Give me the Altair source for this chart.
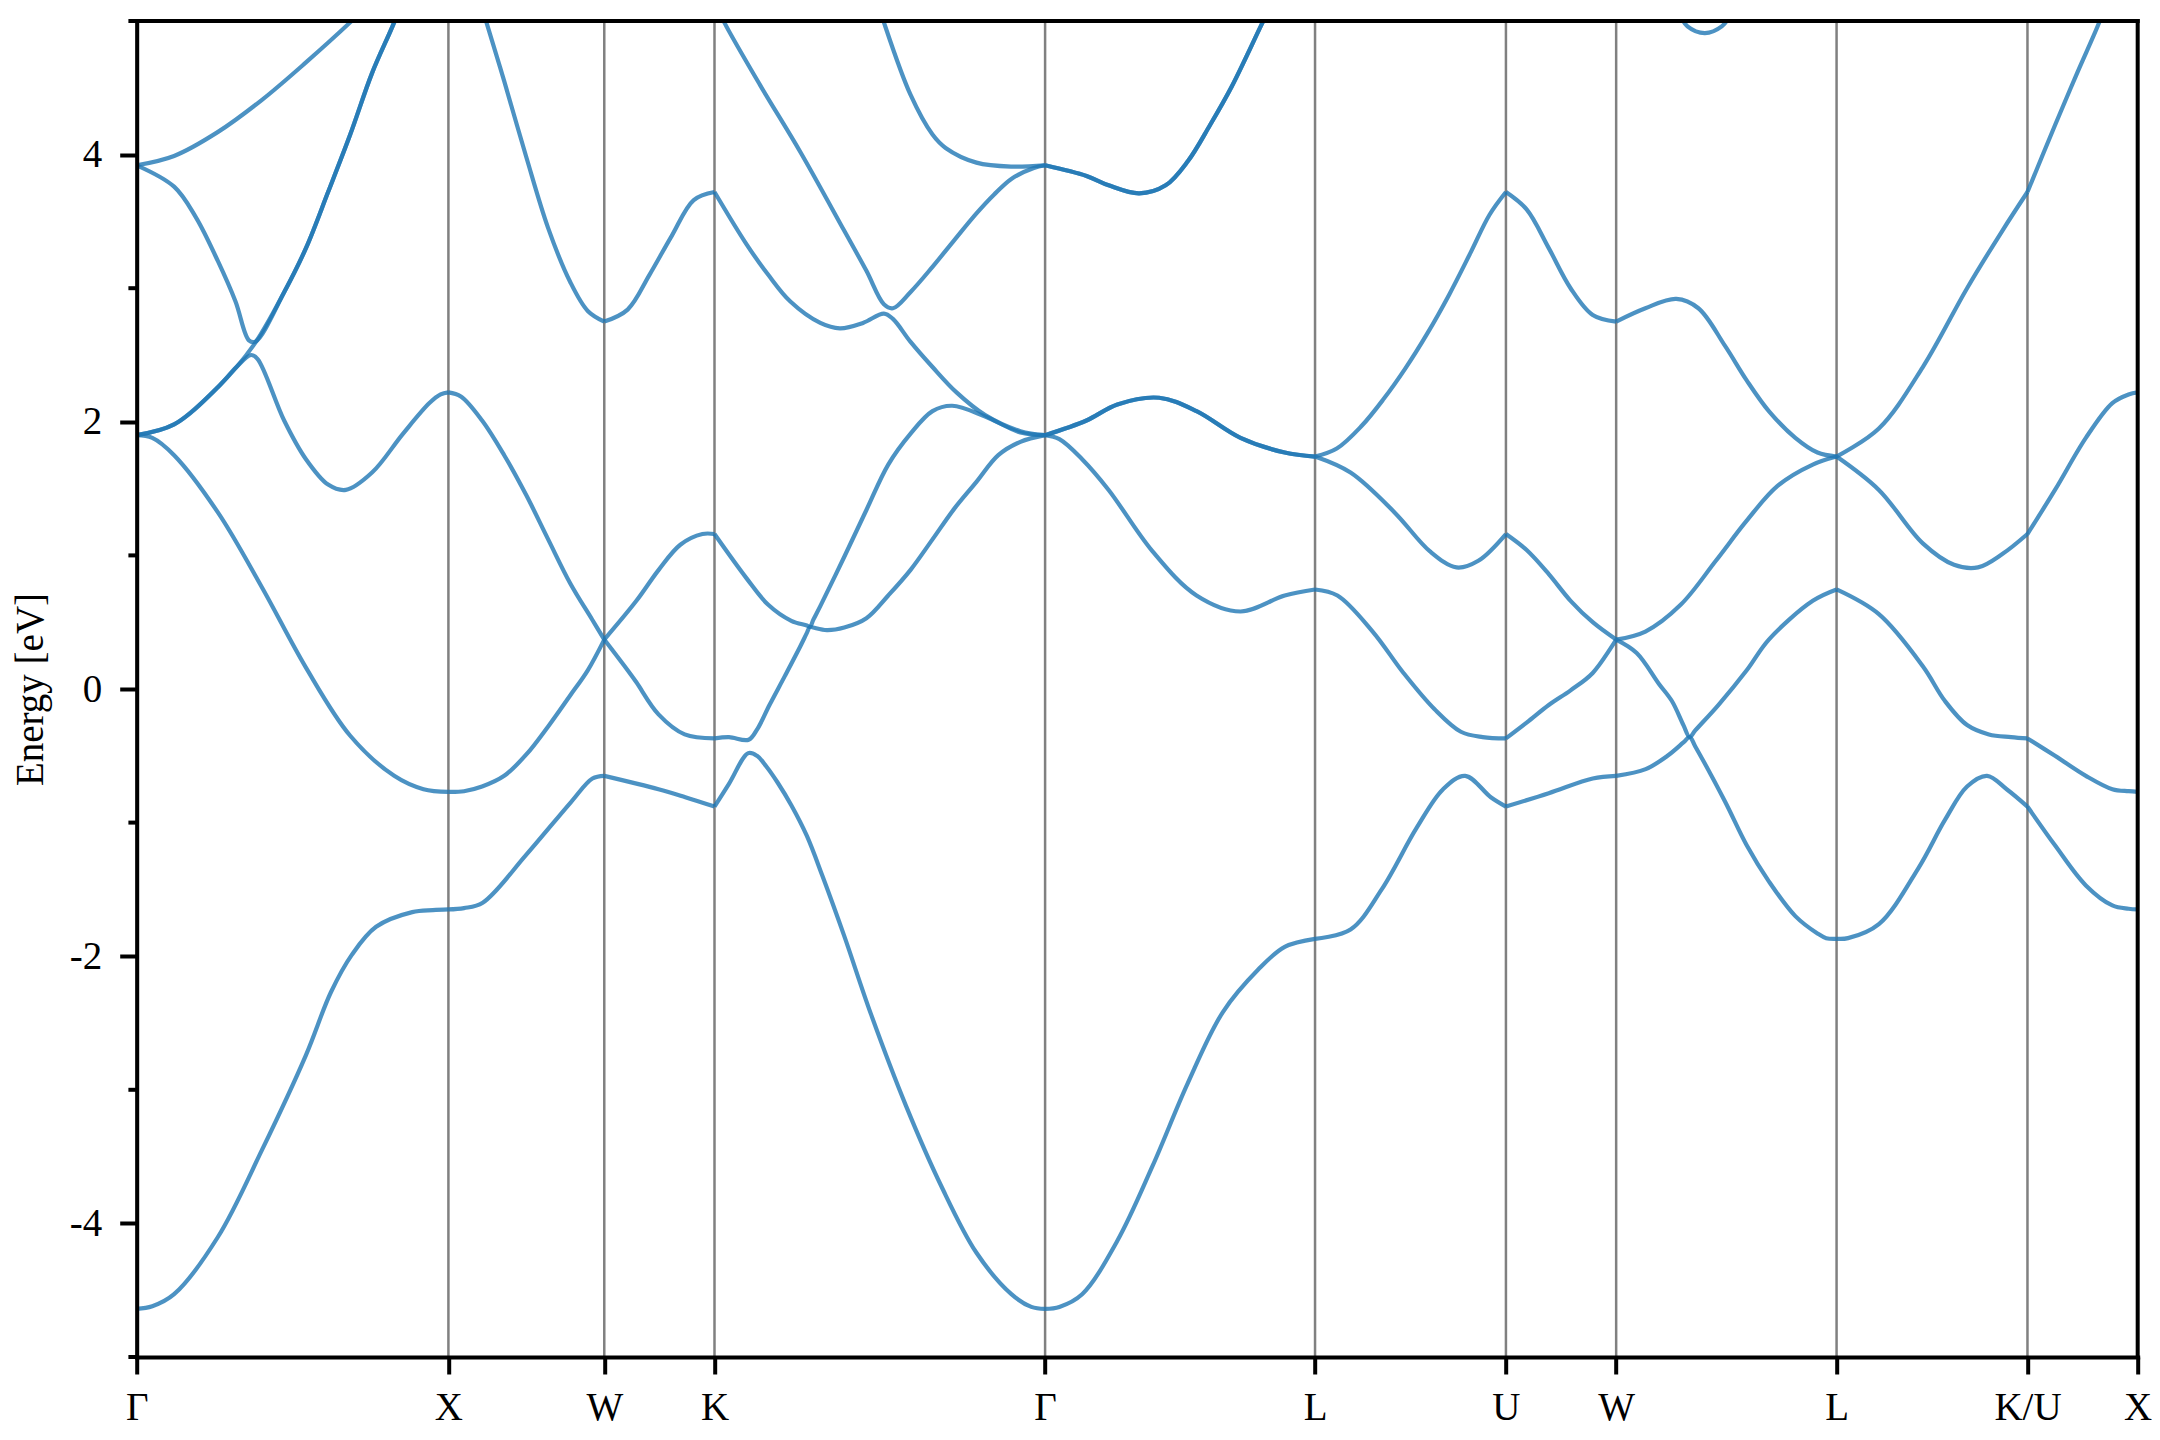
import altair as alt
import pandas as pd

# ---------------- data ----------------
HS_LABELS = ["Γ", "X", "W", "K", "Γ", "L", "U", "W", "L", "K/U", "X"]
HS_K = [0.0, 1.0, 1.5, 1.8536, 2.9142, 3.7802, 4.3926, 4.7462, 5.4533, 6.0657, 6.4193]
E_MIN, E_MAX = -5, 5
MAJOR_TICKS = [-4, -2, 0, 2, 4]
MINOR_TICKS = [-5, -3, -1, 1, 3, 5]

b1_k = [0.0, 0.05, 0.12, 0.261, 0.402, 0.543, 0.623, 0.69, 0.768, 0.884, 0.95, 1.0,
        1.05, 1.11, 1.25, 1.392, 1.462, 1.5,
        1.674, 1.76, 1.8536,
        1.90, 1.962, 1.99, 2.02, 2.056, 2.10, 2.15, 2.20, 2.27, 2.355, 2.468, 2.581, 2.694, 2.806,
        2.87, 2.9142,
        2.96, 3.033, 3.146, 3.259, 3.372, 3.484, 3.598, 3.683, 3.7802,
        3.894, 3.994, 4.106, 4.191, 4.262, 4.344, 4.3926,
        4.53, 4.671, 4.7462,
        4.841, 4.911, 4.962, 4.982, 5.0, 5.095, 5.165, 5.236, 5.321, 5.392, 5.42, 5.4533,
        5.49, 5.589, 5.716, 5.801, 5.872, 5.936, 5.999, 6.0657,
        6.154, 6.253, 6.338, 6.39, 6.4193]
b1_E = [-4.64, -4.62, -4.53, -4.10, -3.45, -2.74, -2.27, -1.99, -1.78, -1.67, -1.655, -1.65,
        -1.64, -1.60, -1.24, -0.85, -0.67, -0.65,
        -0.75, -0.81, -0.88,
        -0.71, -0.48, -0.50, -0.58, -0.70, -0.87, -1.10, -1.40, -1.85, -2.43, -3.12, -3.72, -4.22, -4.53,
        -4.625, -4.64,
        -4.625, -4.53, -4.13, -3.57, -2.95, -2.42, -2.10, -1.93, -1.87,
        -1.80, -1.50, -1.04, -0.75, -0.65, -0.81, -0.88,
        -0.78, -0.67, -0.65,
        -0.60, -0.50, -0.40, -0.36, -0.43, -0.84, -1.17, -1.44, -1.70, -1.83, -1.865, -1.87,
        -1.865, -1.76, -1.34, -0.98, -0.73, -0.65, -0.75, -0.88,
        -1.17, -1.47, -1.62, -1.645, -1.65]

b2_k = [0.0, 0.05, 0.12, 0.261, 0.402, 0.543, 0.685, 0.826, 0.92, 1.0,
        1.05, 1.108, 1.179, 1.25, 1.32, 1.39, 1.447, 1.5,
        1.575, 1.603, 1.674, 1.758, 1.8536,
        1.90, 1.963, 1.991, 2.03, 2.08, 2.129, 2.15, 2.16, 2.17, 2.214, 2.27, 2.341, 2.411,
        2.482, 2.553, 2.623, 2.694, 2.764, 2.835, 2.9142,
        2.96, 3.033, 3.118, 3.259, 3.40, 3.541, 3.683, 3.7802,
        3.852, 3.965, 4.064, 4.163, 4.248, 4.318, 4.3926,
        4.46, 4.53, 4.60, 4.671, 4.7462,
        4.812, 4.883, 4.925, 4.962, 4.982, 5.0, 5.074, 5.165, 5.236, 5.377, 5.4533,
        5.589, 5.73, 5.801, 5.872, 5.942, 6.013, 6.0657,
        6.154, 6.253, 6.338, 6.39, 6.4193]
b2_E = [1.90, 1.88, 1.75, 1.32, 0.76, 0.16, -0.35, -0.65, -0.75, -0.77,
        -0.765, -0.73, -0.65, -0.49, -0.28, -0.05, 0.14, 0.37,
        0.14, 0.05, -0.19, -0.34, -0.37,
        -0.36, -0.38, -0.30, -0.12, 0.10, 0.32, 0.42, 0.465, 0.46, 0.44, 0.46, 0.53, 0.70,
        0.89, 1.12, 1.35, 1.55, 1.75, 1.85, 1.90,
        1.87, 1.72, 1.49, 1.03, 0.70, 0.58, 0.70, 0.745,
        0.70, 0.43, 0.12, -0.15, -0.32, -0.36, -0.37,
        -0.25, -0.12, -0.01, 0.12, 0.37,
        0.27, 0.04, -0.09, -0.27, -0.36, -0.31, -0.12, 0.14, 0.37, 0.66, 0.745,
        0.56, 0.17, -0.09, -0.27, -0.34, -0.36, -0.37,
        -0.50, -0.65, -0.75, -0.765, -0.77]

b3_k = [0.0, 0.12, 0.261, 0.32, 0.367, 0.388, 0.473, 0.543, 0.614, 0.671, 0.755, 0.854, 0.939,
        0.975, 1.0,
        1.04, 1.108, 1.179, 1.25, 1.32, 1.391, 1.461, 1.5,
        1.603, 1.674, 1.744, 1.815, 1.8536,
        1.956, 2.026, 2.10, 2.15, 2.16, 2.17, 2.193, 2.27, 2.341, 2.411, 2.482, 2.553, 2.616,
        2.722, 2.835, 2.9142,
        3.047, 3.146, 3.28, 3.40, 3.541, 3.683, 3.7802,
        3.894, 4.036, 4.149, 4.234, 4.304, 4.3926,
        4.459, 4.53, 4.6, 4.671, 4.7462,
        4.84, 4.953, 5.066, 5.165, 5.264, 5.377, 5.4533,
        5.589, 5.73, 5.83, 5.907, 5.985, 6.0657,
        6.154, 6.253, 6.338, 6.39, 6.4193]
b3_E = [1.90, 1.98, 2.26, 2.41, 2.50, 2.47, 2.01, 1.72, 1.53, 1.49, 1.62, 1.91, 2.14,
        2.205, 2.22,
        2.19, 2.01, 1.75, 1.45, 1.12, 0.79, 0.52, 0.37,
        0.66, 0.89, 1.08, 1.16, 1.16,
        0.83, 0.63, 0.51, 0.475, 0.465, 0.515, 0.62, 0.99, 1.34, 1.68, 1.91, 2.08, 2.12,
        2.04, 1.92, 1.90,
        2.01, 2.13, 2.18, 2.08, 1.88, 1.77, 1.74,
        1.62, 1.32, 1.03, 0.91, 0.96, 1.16,
        1.04, 0.86, 0.66, 0.50, 0.37,
        0.43, 0.63, 0.96, 1.26, 1.52, 1.68, 1.74,
        1.49, 1.09, 0.93, 0.91, 1.01, 1.16,
        1.49, 1.88, 2.14, 2.205, 2.22]

b4_k = [0.0, 0.12, 0.261, 0.374, 0.473, 0.543, 0.614, 0.685, 0.755, 0.826, 0.86,
        1.10, 1.122, 1.179, 1.25, 1.32, 1.39, 1.447, 1.5,
        1.575, 1.645, 1.716, 1.787, 1.8536,
        1.956, 2.026, 2.097, 2.193, 2.256, 2.33, 2.397, 2.426, 2.482, 2.553, 2.63, 2.722, 2.835, 2.9142,
        3.047, 3.146, 3.28, 3.40, 3.541, 3.683, 3.7802,
        3.85, 3.93, 4.0, 4.07, 4.14, 4.21, 4.28, 4.34, 4.3926,
        4.459, 4.53, 4.6, 4.671, 4.7462,
        4.84, 4.939, 5.01, 5.095, 5.165, 5.236, 5.321, 5.392, 5.4533,
        5.589, 5.73, 5.872, 5.985, 6.0657,
        6.154, 6.225, 6.296, 6.32]
b4_E = [1.90, 1.98, 2.26, 2.57, 2.97, 3.30, 3.72, 4.15, 4.61, 4.99, 5.2,
        5.15, 4.99, 4.55, 3.98, 3.45, 3.05, 2.83, 2.75,
        2.84, 3.10, 3.39, 3.66, 3.72,
        3.33, 3.10, 2.90, 2.74, 2.70, 2.74, 2.81, 2.77, 2.60, 2.41, 2.22, 2.05, 1.93, 1.90,
        2.01, 2.13, 2.18, 2.08, 1.88, 1.77, 1.74,
        1.80, 1.97, 2.17, 2.40, 2.66, 2.95, 3.27, 3.55, 3.72,
        3.59, 3.30, 3.00, 2.80, 2.75,
        2.85, 2.92, 2.85, 2.57, 2.31, 2.08, 1.88, 1.77, 1.74,
        1.95, 2.41, 3.00, 3.43, 3.72,
        4.22, 4.61, 4.99, 5.15]

b5_k = [0.0, 0.12, 0.19, 0.261, 0.317, 0.36, 0.381, 0.473, 0.543, 0.614, 0.685, 0.755, 0.826, 0.86,
        1.87, 1.885, 2.0, 2.129, 2.27, 2.341, 2.397, 2.426, 2.482, 2.553, 2.623, 2.694, 2.75, 2.807,
        2.878, 2.9142,
        3.047, 3.118, 3.216, 3.301, 3.372, 3.443, 3.513, 3.612, 3.64,
        4.95, 4.975, 5.031, 5.085, 5.115]
b5_E = [3.92, 3.76, 3.53, 3.20, 2.90, 2.61, 2.60, 2.97, 3.30, 3.72, 4.15, 4.61, 4.99, 5.2,
        5.07, 4.99, 4.52, 4.02, 3.43, 3.13, 2.88, 2.85, 2.97, 3.16, 3.36, 3.56, 3.70, 3.82,
        3.90, 3.92,
        3.84, 3.77, 3.71, 3.77, 3.95, 4.22, 4.51, 4.99, 5.12,
        5.05, 4.96, 4.91, 4.96, 5.05]

b6_k = [0.0, 0.12, 0.261, 0.402, 0.543, 0.685, 0.72,
        2.385, 2.397, 2.482, 2.553, 2.595, 2.694, 2.807, 2.9142,
        3.047, 3.118, 3.216, 3.301, 3.372, 3.443, 3.513, 3.612, 3.64]
b6_E = [3.92, 3.99, 4.17, 4.41, 4.69, 4.99, 5.07,
        5.08, 4.99, 4.45, 4.15, 4.05, 3.94, 3.91, 3.92,
        3.84, 3.77, 3.71, 3.77, 3.95, 4.22, 4.51, 4.99, 5.12]

BANDS = {
    "b1": (b1_k, b1_E),
    "b2": (b2_k, b2_E),
    "b3": (b3_k, b3_E),
    "b4": (b4_k, b4_E),
    "b5": (b5_k, b5_E),
    "b6": (b6_k, b6_E),
}

# split each band into path segments between high-symmetry points
rows = []
for name, (ks, es) in BANDS.items():
    for seg in range(len(HS_K) - 1):
        lo, hi = HS_K[seg], HS_K[seg + 1]
        for k, e in zip(ks, es):
            if lo <= k <= hi:
                rows.append({"series": f"{name}_{seg}", "k": k, "E": e})
bands_df = pd.DataFrame(rows)
hs_df = pd.DataFrame({"k": HS_K})
minor_df = pd.DataFrame({"E": MINOR_TICKS})
top_df = pd.DataFrame({"E": [E_MAX]})
right_df = pd.DataFrame({"k": [HS_K[-1]]})

# ---------------- styling ----------------
FONT = "Liberation Serif"
FS = 39
x_scale = alt.Scale(domain=[HS_K[0], HS_K[-1]], nice=False, zero=False)
y_scale = alt.Scale(domain=[E_MIN, E_MAX], nice=False, zero=False)

label_expr = ("[" + ",".join(f"'{l}'" for l in HS_LABELS) + "][indexof(["
              + ",".join(repr(k) for k in HS_K) + "], datum.value)]")

x_axis = alt.Axis(values=HS_K, labelExpr=label_expr, title="", grid=False,
                  tickSize=17, tickWidth=4, tickColor="black",
                  domainColor="black", domainWidth=4, domainCap="square",
                  labelFont=FONT, labelFontSize=FS, labelColor="black",
                  labelPadding=15, labelBaseline="top", labelAlign="center",
                  labelFlush=False, labelOverlap=False, zindex=1)
y_axis = alt.Axis(values=MAJOR_TICKS, labelExpr="'' + datum.value", title="Energy [eV]",
                  titleFont=FONT, titleFontSize=FS, titleFontWeight="normal", titleColor="black",
                  titleAngle=270, titleX=-94, titleY=668, titleAlign="center",
                  titleBaseline="alphabetic",
                  grid=False, tickSize=17, tickWidth=4, tickColor="black",
                  domainColor="black", domainWidth=4, domainCap="square",
                  labelFont=FONT, labelFontSize=FS, labelColor="black",
                  labelPadding=18, labelBaseline="middle", labelAlign="right", zindex=1)

X = alt.X("k:Q", scale=x_scale, axis=x_axis)
Y = alt.Y("E:Q", scale=y_scale, axis=y_axis)

vlines = alt.Chart(hs_df).mark_rule(color="#808080", strokeWidth=2.5).encode(x=X)

bands = alt.Chart(bands_df).mark_line(
    interpolate="catmull-rom", clip=True, color="#1f77b4", opacity=0.8, strokeWidth=4.2
).encode(x=X, y=Y, detail="series:N", order="k:Q")

minor = alt.Chart(minor_df).mark_rule(color="black", strokeWidth=4).encode(
    y=Y, x=alt.value(-8.3), x2=alt.value(0)
)

top = alt.Chart(top_df).mark_rule(color="black", strokeWidth=4, strokeCap="square").encode(y=Y)
right = alt.Chart(right_df).mark_rule(color="black", strokeWidth=4, strokeCap="square").encode(x=X)

chart = alt.layer(vlines, bands, minor, top, right).properties(
    width=2001,
    height=1336,
    padding={"left": 128.7, "top": 13, "right": 14, "bottom": 75},
    autosize=alt.AutoSizeParams(type="none"),
    background="white",
).configure_view(strokeWidth=0)

chart.save("out.html", embed_options={"renderer": "svg", "actions": False})
